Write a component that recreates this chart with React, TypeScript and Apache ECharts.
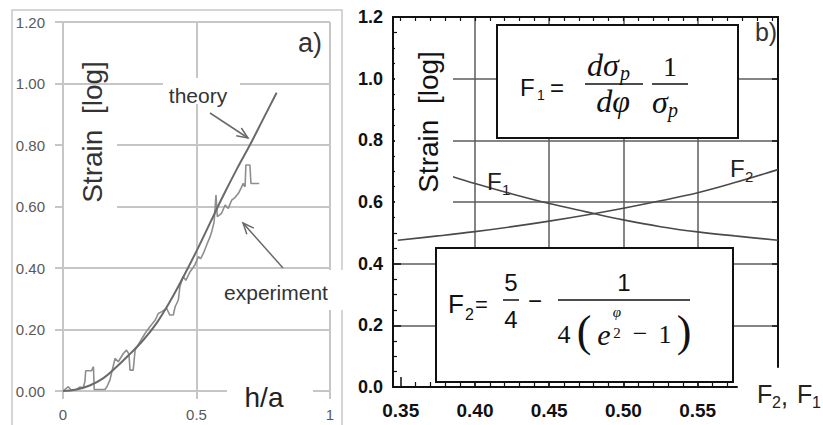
import React, { useEffect, useRef } from 'react';
import * as echarts from 'echarts';

// ---------- Panel a) ----------
const theoryX = [0, 0.05, 0.1, 0.15, 0.2, 0.25, 0.3, 0.35, 0.4, 0.45, 0.5, 0.55, 0.6, 0.65, 0.7, 0.75, 0.8];
const theoryY = [0, 0.005, 0.018, 0.041, 0.078, 0.12, 0.165, 0.22, 0.29, 0.37, 0.455, 0.545, 0.635, 0.72, 0.8, 0.885, 0.97];

const expX = [0, 0.02, 0.03, 0.05, 0.064, 0.075, 0.082, 0.085, 0.107, 0.114, 0.117, 0.157, 0.164, 0.176, 0.185, 0.195, 0.207, 0.226, 0.238, 0.247, 0.251, 0.263, 0.27, 0.288, 0.307, 0.326, 0.345, 0.357, 0.37, 0.388, 0.4, 0.413, 0.42, 0.432, 0.438, 0.45, 0.46, 0.476, 0.494, 0.507, 0.515, 0.526, 0.538, 0.551, 0.557, 0.566, 0.573, 0.578, 0.594, 0.607, 0.619, 0.632, 0.645, 0.657, 0.667, 0.675, 0.682, 0.685, 0.7, 0.704, 0.735];
const expY = [0, 0.014, 0.003, 0.005, 0.013, 0.01, 0.03, 0.066, 0.066, 0.079, 0.005, 0.005, 0.013, 0.036, 0.07, 0.106, 0.095, 0.122, 0.133, 0.12, 0.068, 0.068, 0.133, 0.16, 0.187, 0.21, 0.23, 0.252, 0.258, 0.269, 0.247, 0.247, 0.274, 0.296, 0.34, 0.372, 0.36, 0.388, 0.41, 0.437, 0.43, 0.448, 0.475, 0.502, 0.518, 0.55, 0.637, 0.567, 0.578, 0.605, 0.594, 0.621, 0.63, 0.643, 0.66, 0.675, 0.664, 0.735, 0.735, 0.675, 0.675];

// ---------- Panel b) ----------
const bXLabels = [0.35, 0.4, 0.45, 0.5, 0.55];
const bXGrid = [0.4, 0.45, 0.5, 0.55];
const bXMinor = [0.36, 0.37, 0.38, 0.39, 0.41, 0.42, 0.43, 0.44, 0.46, 0.47, 0.48, 0.49, 0.51, 0.52, 0.53, 0.54, 0.56, 0.57];
const bXTopTicks = [0.35, 0.36, 0.37, 0.38, 0.39, 0.4, 0.41, 0.42, 0.43, 0.44, 0.45, 0.46, 0.47, 0.48, 0.49, 0.5, 0.51, 0.52, 0.53, 0.54, 0.55, 0.56, 0.57, 0.58, 0.59, 0.6];
const bYLabels = [0, 0.2, 0.4, 0.6, 0.8, 1.0, 1.2];
const bYGrid = [0.2, 0.4, 0.6, 0.8, 1.0];

const f1X = [0.385, 0.4, 0.425, 0.45, 0.475, 0.5, 0.525, 0.55, 0.575, 0.604];
const f1Y = [0.682, 0.66, 0.626, 0.595, 0.568, 0.542, 0.52, 0.503, 0.49, 0.476];
const f2X = [0.348, 0.375, 0.4, 0.425, 0.45, 0.475, 0.5, 0.525, 0.55, 0.575, 0.604];
const f2Y = [0.476, 0.49, 0.504, 0.52, 0.538, 0.558, 0.58, 0.604, 0.63, 0.663, 0.705];

const zip = (xs: number[], ys: number[]) => xs.map((x, i) => [x, ys[i]]);

const SANS = 'Liberation Sans, Arial, sans-serif';
const SERIF = 'Liberation Serif, Times New Roman, serif';

function txt(text: string, x: number, y: number, size: number, o: any = {}) {
  return {
    type: 'text',
    x,
    y,
    z: 100,
    rotation: o.rot || 0,
    style: {
      text,
      fontSize: size,
      fontFamily: o.ff || SANS,
      fontStyle: o.fs || 'normal',
      fontWeight: o.fw || 'normal',
      fill: o.c || '#111',
      align: o.al || 'left',
      verticalAlign: 'middle',
    },
  };
}

function mask(x: number, y: number, w: number, h: number) {
  return { type: 'rect', z: 90, shape: { x, y, width: w, height: h }, style: { fill: '#fff' } };
}

function hline(x1: number, x2: number, y: number, w = 1.5) {
  return { type: 'line', z: 100, shape: { x1, y1: y, x2, y2: y }, style: { stroke: '#111', lineWidth: w } };
}

function arrow(x1: number, y1: number, x2: number, y2: number, color: string) {
  const a = Math.atan2(y2 - y1, x2 - x1);
  const L = 12;
  const w = 0.4;
  const p1 = [x2 - L * Math.cos(a - w), y2 - L * Math.sin(a - w)];
  const p2 = [x2 - L * Math.cos(a + w), y2 - L * Math.sin(a + w)];
  return [
    { type: 'line', z: 100, shape: { x1, y1, x2, y2 }, style: { stroke: color, lineWidth: 1.5 } },
    { type: 'polyline', z: 100, shape: { points: [p1, [x2, y2], p2] }, style: { stroke: color, lineWidth: 1.5, fill: null } },
  ];
}

const lightGrid = '#c6c6c6';
const darkGrid = '#5c5c5c';
const B_MIN = 0.3448;
const B_MAX = 0.6041;
const B_AXIS_MAX = 0.5765;

export default function App() {
  const ref = useRef<HTMLDivElement>(null);
  useEffect(() => {
    if (!ref.current) return;
    const chart = echarts.init(ref.current, null, { renderer: 'svg' });
    const graphic: any[] = [
      // left panel frame
      { type: 'rect', z: 1, shape: { x: 12, y: 10, width: 330, height: 425 }, style: { fill: null, stroke: '#c8c8c8', lineWidth: 1.5 } },
      // masks (white backgrounds of annotation texts)
      mask(64, 92, 53, 120),
      mask(163, 78, 77, 26),
      mask(227, 380, 86, 32),
      mask(215, 270, 133, 40),
      mask(395, 40, 58, 185),
      // left panel annotations
      txt('Strain  [log]', 92, 132, 28, { rot: Math.PI / 2, al: 'center', c: '#333' }),
      txt('a)', 310, 43, 27, { al: 'center', c: '#333' }),
      txt('theory', 198, 95, 21, { al: 'center', c: '#333' }),
      txt('experiment', 276, 292, 21, { al: 'center', c: '#333' }),
      txt('h/a', 264, 397, 28, { al: 'center', c: '#222' }),
      ...arrow(210, 113, 248, 138, '#6a6a6a'),
      ...arrow(283, 268, 243, 223, '#6a6a6a'),
      // right panel annotations
      txt('Strain  [log]', 428, 122, 28, { rot: Math.PI / 2, al: 'center', c: '#111' }),
      txt('b)', 766, 32, 25, { al: 'center', c: '#333' }),
      txt('F', 487, 181, 24, { c: '#222' }),
      txt('1', 502, 189, 15, { c: '#222' }),
      txt('F', 730, 168, 24, { c: '#222' }),
      txt('2', 745, 176, 15, { c: '#222' }),
      txt('F', 757, 394, 25, { c: '#222' }),
      txt('2', 772, 402, 16, { c: '#222' }),
      txt(',', 781, 396, 25, { c: '#222' }),
      txt('F', 797, 394, 25, { c: '#222' }),
      txt('1', 812, 402, 16, { c: '#222' }),
      // F1 box
      { type: 'rect', z: 80, shape: { x: 497, y: 25, width: 241, height: 113 }, style: { fill: '#fff', stroke: '#111', lineWidth: 2 } },
      txt('F', 520, 87, 24),
      txt('1', 537, 95, 14),
      txt('=', 550, 87, 24),
      txt('dσ', 587, 65, 32, { ff: SERIF, fs: 'italic' }),
      txt('p', 620, 73, 20, { ff: SERIF, fs: 'italic' }),
      hline(585, 643, 84),
      txt('dφ', 613, 101, 32, { ff: SERIF, fs: 'italic', al: 'center' }),
      txt('1', 670, 66, 28, { ff: SERIF, al: 'center' }),
      hline(652, 688, 84),
      txt('σ', 652, 102, 32, { ff: SERIF, fs: 'italic' }),
      txt('p', 668, 110, 20, { ff: SERIF, fs: 'italic' }),
      // F2 box
      { type: 'rect', z: 80, shape: { x: 436, y: 248, width: 297, height: 134 }, style: { fill: '#fff', stroke: '#111', lineWidth: 2 } },
      txt('F', 448, 304, 26),
      txt('2', 465, 314, 16),
      txt('=', 475, 304, 22),
      txt('5', 511, 282, 24, { al: 'center' }),
      hline(503, 519, 300),
      txt('4', 511, 319, 24, { al: 'center' }),
      txt('−', 535, 300, 24, { al: 'center' }),
      txt('1', 624, 282, 24, { al: 'center' }),
      hline(558, 690, 300),
      txt('4', 564, 334, 26, { ff: SERIF, al: 'center' }),
      txt('(', 584, 331, 44, { ff: SERIF, al: 'center' }),
      txt('e', 604, 334, 30, { ff: SERIF, fs: 'italic', al: 'center' }),
      txt('φ', 617, 312, 15, { ff: SERIF, fs: 'italic', al: 'center' }),
      txt('2', 617, 333, 15, { ff: SERIF, al: 'center' }),
      txt('−', 640, 333, 26, { ff: SERIF, al: 'center' }),
      txt('1', 665, 334, 26, { ff: SERIF, al: 'center' }),
      txt(')', 684, 331, 44, { ff: SERIF, al: 'center' }),
    ];

    const option: any = {
      animation: false,
      backgroundColor: '#fff',
      grid: [
        { left: 63, top: 22, width: 267, height: 369 },
        { left: 393, top: 17, width: 385, height: 370 },
        { left: 393, top: 17, width: 344, height: 370 },
        { left: 393, top: 17, width: 385, height: 350 },
      ],
      xAxis: [
        {
          gridIndex: 0, type: 'value', min: 0, max: 1, interval: 0.5,
          axisLine: { show: true, onZero: false, lineStyle: { color: lightGrid, width: 2 } },
          axisTick: { show: true, length: 8, lineStyle: { color: lightGrid, width: 2 } },
          axisLabel: { fontSize: 15, color: '#595959', margin: 16, fontFamily: SANS, formatter: (v: number) => String(v) },
          splitLine: { show: true, lineStyle: { color: lightGrid, width: 2 } },
        },
        {
          gridIndex: 1, type: 'value', min: B_MIN, max: B_MAX, position: 'bottom',
          axisLine: { show: false, onZero: false },
          axisTick: { show: false, customValues: bXGrid },
          axisLabel: { show: false },
          splitLine: { show: true, lineStyle: { color: darkGrid, width: 1.5 } },
        },
        {
          gridIndex: 1, type: 'value', min: B_MIN, max: B_MAX, position: 'top',
          axisLine: { show: true, onZero: false, lineStyle: { color: '#111', width: 2 } },
          axisTick: { show: true, inside: true, length: 4, customValues: bXTopTicks, lineStyle: { color: '#111', width: 1.2 } },
          axisLabel: { show: false },
          splitLine: { show: false },
        },
        {
          gridIndex: 2, type: 'value', min: B_MIN, max: B_AXIS_MAX, position: 'bottom',
          axisLine: { show: true, onZero: false, lineStyle: { color: '#111', width: 2 } },
          axisTick: { show: true, inside: true, length: 10, customValues: bXLabels, lineStyle: { color: '#111', width: 1.5 } },
          axisLabel: {
            customValues: bXLabels, fontSize: 19, fontWeight: 'bold', color: '#111', margin: 14, fontFamily: SANS,
            formatter: (v: number) => v.toFixed(2),
          },
          splitLine: { show: false },
        },
        {
          gridIndex: 2, type: 'value', min: B_MIN, max: B_AXIS_MAX, position: 'bottom',
          axisLine: { show: false, onZero: false },
          axisTick: { show: true, inside: true, length: 5, customValues: bXMinor, lineStyle: { color: '#111', width: 1.2 } },
          axisLabel: { show: false },
          splitLine: { show: false },
        },
        { gridIndex: 3, type: 'value', min: B_MIN, max: B_MAX, show: false },
      ],
      yAxis: [
        {
          gridIndex: 0, type: 'value', min: 0, max: 1.2, interval: 0.2,
          axisLine: { show: true, onZero: false, lineStyle: { color: lightGrid, width: 2 } },
          axisTick: { show: true, length: 8, lineStyle: { color: lightGrid, width: 2 } },
          axisLabel: { fontSize: 15, color: '#595959', margin: 18, fontFamily: SANS, formatter: (v: number) => v.toFixed(2) },
          splitLine: { show: true, lineStyle: { color: lightGrid, width: 2 } },
        },
        {
          gridIndex: 1, type: 'value', min: 0, max: 1.2, interval: 0.2,
          axisLine: { show: true, onZero: false, lineStyle: { color: '#111', width: 2 } },
          axisTick: { show: true, inside: true, length: 8, customValues: bYGrid, lineStyle: { color: '#111', width: 1.5 } },
          minorTick: { show: true, splitNumber: 4, length: 4, lineStyle: { color: '#111', width: 1.2 } },
          axisLabel: {
            customValues: bYLabels, fontSize: 18, fontWeight: 'bold', color: '#111', margin: 10, fontFamily: SANS,
            formatter: (v: number) => v.toFixed(1),
          },
          splitLine: { show: true, lineStyle: { color: darkGrid, width: 1.5 } },
        },
        { gridIndex: 2, type: 'value', min: 0, max: 1.2, show: false },
        {
          gridIndex: 3, type: 'value', min: 0.065, max: 1.2, position: 'right',
          axisLine: { show: true, onZero: false, lineStyle: { color: '#111', width: 2 } },
          axisTick: { show: true, inside: true, length: 6, customValues: bYGrid, lineStyle: { color: '#111', width: 1.5 } },
          axisLabel: { show: false },
          splitLine: { show: false },
        },
      ],
      series: [
        {
          name: 'experiment', type: 'line', xAxisIndex: 0, yAxisIndex: 0, data: zip(expX, expY),
          showSymbol: false, symbol: 'none', lineStyle: { color: '#8e8e8e', width: 1.6 }, z: 2,
        },
        {
          name: 'theory', type: 'line', xAxisIndex: 0, yAxisIndex: 0, data: zip(theoryX, theoryY),
          showSymbol: false, symbol: 'none', smooth: 0.4, lineStyle: { color: '#6a6a6a', width: 2 }, z: 3,
        },
        {
          name: 'F1', type: 'line', xAxisIndex: 1, yAxisIndex: 1, data: zip(f1X, f1Y),
          showSymbol: false, symbol: 'none', smooth: 0.4, lineStyle: { color: '#4a4a4a', width: 1.6 }, z: 3,
        },
        {
          name: 'F2', type: 'line', xAxisIndex: 1, yAxisIndex: 1, data: zip(f2X, f2Y),
          showSymbol: false, symbol: 'none', smooth: 0.4, lineStyle: { color: '#4a4a4a', width: 1.6 }, z: 3,
        },
      ],
      graphic,
    };
    chart.setOption(option);
    return () => chart.dispose();
  }, []);
  return <div ref={ref} style={{ position: 'fixed', left: 0, top: 0, width: 823, height: 425 }} />;
}
